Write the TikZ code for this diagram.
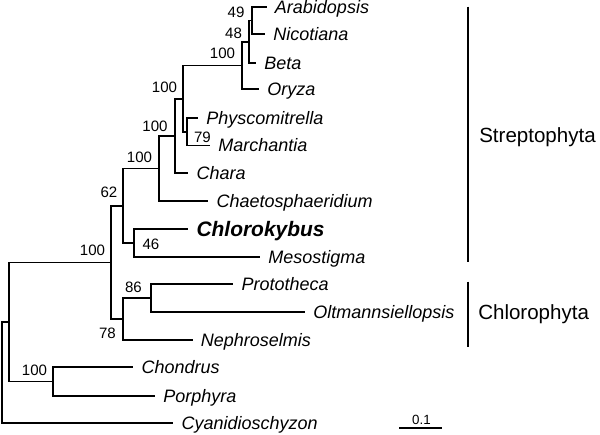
\documentclass[tikz,border=0pt]{standalone}
\usepackage{fontspec}
\setmainfont{Liberation Sans}
\begin{document}
\begin{tikzpicture}[x=0.75pt,y=0.75pt,yscale=-1,
  branch/.style={line width=1.3pt, line join=miter},
  taxon/.style={anchor=west, inner xsep=6pt, inner ysep=0pt, text height=9.7pt, text depth=0pt, font=\fontsize{13.5}{16}\selectfont\itshape},
  boot/.style={inner sep=0pt, font=\fontsize{11.3}{13}\selectfont},
  clade/.style={anchor=west, inner sep=0pt, font=\fontsize{15.4}{18}\selectfont}]

\useasboundingbox (0,0) rectangle (600,435);

% Internal nodes
\coordinate (nAN)     at (251.7, 20.5);
\coordinate (nANB)    at (249,   41.9);
\coordinate (nAngio)  at (241.7, 65.6);
\coordinate (nPM)     at (186.7,131.9);
\coordinate (nLand)   at (183.3, 98.75);
\coordinate (nChara)  at (175,  136);
\coordinate (nChaeto) at (159.3,168.5);
\coordinate (nCM)     at (134.3,242.85);
\coordinate (nStrep)  at (122.7,205.7);
\coordinate (nPO)     at (150.7,298.3);
\coordinate (nChlo)   at (122.7,319.15);
\coordinate (nGreen)  at (110.7,262.4);
\coordinate (nRed)    at (53.3, 381.5);
\coordinate (nIn)     at (9,    322);
\coordinate (nRoot)   at (1.7,  372.6);

% Taxa
\node[taxon] (arab)   at (266.7,  6.7) {Arabidopsis};
\node[taxon] (nico)   at (265,   34.3) {Nicotiana};
\node[taxon] (beta)   at (256,   63.3) {Beta};
\node[taxon] (oryza)  at (259,   89.3) {Oryza};
\node[taxon] (phys)   at (198,  118.3) {Physcomitrella};
\node[taxon] (march)  at (210,  145.5) {Marchantia};
\node[taxon] (chara)  at (188.3,173.3) {Chara};
\node[taxon] (chaeto) at (208.3,201) {Chaetosphaeridium};
\node[taxon, text height=11.2pt, font=\fontsize{15.7}{18}\selectfont\bfseries\itshape] (chloro) at (188.3,229) {Chlorokybus};
\node[taxon] (meso)   at (260,  256.7) {Mesostigma};
\node[taxon] (proto)  at (233.3,284.3) {Prototheca};
\node[taxon] (oltm)   at (305,  312.3) {Oltmannsiellopsis};
\node[taxon] (nephro) at (192.7,340) {Nephroselmis};
\node[taxon] (chond)  at (133.3,367.3) {Chondrus};
\node[taxon] (porph)  at (155,  395.7) {Porphyra};
\node[taxon] (cyan)   at (173.3,423.3) {Cyanidioschyzon};

% Branches
\draw[branch] (nAN) |- (arab.west);
\draw[branch] (nAN) |- (nico.west);
\draw[branch] (nANB) |- (nAN);
\draw[branch] (nANB) |- (beta.west);
\draw[branch] (nAngio) |- (nANB);
\draw[branch] (nAngio) |- (oryza.west);
\draw[branch] (nPM) |- (phys.west);
\draw[branch] (nPM) |- (march.west);
\draw[branch] (nLand) |- (nAngio);
\draw[branch] (nLand) |- (nPM);
\draw[branch] (nChara) |- (nLand);
\draw[branch] (nChara) |- (chara.west);
\draw[branch] (nChaeto) |- (nChara);
\draw[branch] (nChaeto) |- (chaeto.west);
\draw[branch] (nCM) |- (chloro.west);
\draw[branch] (nCM) |- (meso.west);
\draw[branch] (nStrep) |- (nChaeto);
\draw[branch] (nStrep) |- (nCM);
\draw[branch] (nPO) |- (proto.west);
\draw[branch] (nPO) |- (oltm.west);
\draw[branch] (nChlo) |- (nPO);
\draw[branch] (nChlo) |- (nephro.west);
\draw[branch] (nGreen) |- (nStrep);
\draw[branch] (nGreen) |- (nChlo);
\draw[branch] (nRed) |- (chond.west);
\draw[branch] (nRed) |- (porph.west);
\draw[branch] (nIn) |- (nGreen);
\draw[branch] (nIn) |- (nRed);
\draw[branch] (nRoot) |- (nIn);
\draw[branch] (nRoot) |- (cyan.west);

% Bootstrap values
\node[boot] (bs49)     at (236,  12.5) {49};
\node[boot] (bs48)     at (233.5,33.5) {48};
\node[boot] (bsAngio)  at (222.5,53) {100};
\node[boot] (bsLand)   at (164.5,87) {100};
\node[boot] (bs79)     at (202.5,137) {79};
\node[boot] (bsChara)  at (155,  126) {100};
\node[boot] (bsChaeto) at (139.5,157) {100};
\node[boot] (bs62)     at (109,  192.5) {62};
\node[boot] (bs46)     at (151,  244) {46};
\node[boot] (bsGreen)  at (92.5, 250.5) {100};
\node[boot] (bs86)     at (133.5,287) {86};
\node[boot] (bs78)     at (107.5,333.5) {78};
\node[boot] (bsRed)    at (34.5, 370.5) {100};

% Clades
\coordinate (strepTop) at (468.3,  6.7);
\coordinate (strepBot) at (468.3,261.7);
\draw[line width=1.3pt] (strepTop) -- (strepBot);
\node[clade] (strep) at (479,137) {Streptophyta};
\coordinate (chloTop) at (468.3,281.7);
\coordinate (chloBot) at (468.3,346.7);
\draw[line width=1.3pt] (chloTop) -- (chloBot);
\node[clade] (chlo) at (478,314) {Chlorophyta};

% Scale bar
\coordinate (sbLeft)  at (399.3,428.3);
\coordinate (sbRight) at (441.7,428.3);
\draw[line width=1.6pt] (sbLeft) -- (sbRight);
\node[inner sep=0pt, font=\fontsize{10}{12}\selectfont] (sbText) at (421.5,419.5) {0.1};

\end{tikzpicture}
\end{document}
